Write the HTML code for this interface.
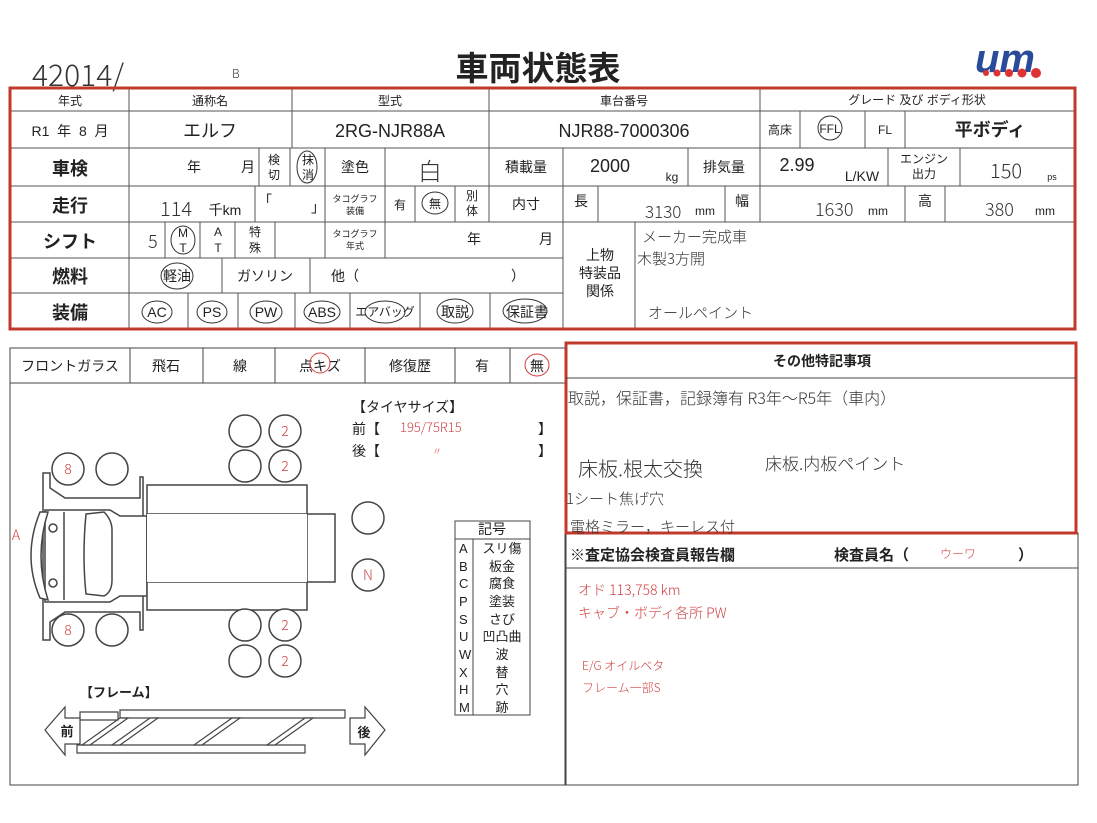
<!DOCTYPE html>
<html><head><meta charset="utf-8"><style>
html,body{margin:0;padding:0;background:#fff;}
svg{display:block;}
text{font-family:"Liberation Sans","Noto Sans CJK JP",sans-serif;fill:#222;}
.h{font-size:12px;text-anchor:middle;}
.m{font-size:18px;text-anchor:middle;}
.b{font-size:18px;text-anchor:middle;font-weight:bold;}
.s{font-size:14px;text-anchor:middle;}
.t{font-size:9px;text-anchor:middle;}
.hw{font-family:"Noto Sans CJK JP",sans-serif;font-weight:300;fill:#333;}
.r{fill:#d04040;font-family:"Noto Sans CJK JP",sans-serif;font-weight:300;}
</style></head><body>
<svg width="1097" height="823" viewBox="0 0 1097 823" xmlns="http://www.w3.org/2000/svg">
<rect width="1097" height="823" fill="#fff"/>
<!-- header -->
<text x="32" y="86" class="hw" font-size="30" fill="#555">42014/</text>
<text x="232" y="78" class="hw" font-size="12">B</text>
<text x="538" y="80" font-size="33" font-weight="bold" text-anchor="middle" style="fill:#222">車両状態表</text>
<text x="1005" y="72" font-size="40" font-weight="bold" font-style="italic" text-anchor="middle" style="fill:#2a4a9a;font-family:'Liberation Sans',sans-serif">um</text>
<g fill="#d33"><circle cx="986" cy="73" r="3"/><circle cx="997" cy="73" r="3.5"/><circle cx="1009" cy="73" r="4"/><circle cx="1022" cy="73" r="4.5"/><circle cx="1036" cy="73" r="5"/></g>

<!-- top table -->
<g stroke="#555" stroke-width="1" fill="none">
<line x1="10" y1="111" x2="1075" y2="111"/>
<line x1="10" y1="148" x2="1075" y2="148"/>
<line x1="10" y1="186" x2="1075" y2="186"/>
<line x1="10" y1="222" x2="1075" y2="222"/>
<line x1="10" y1="258" x2="563" y2="258"/>
<line x1="10" y1="293" x2="563" y2="293"/>
<line x1="129" y1="88" x2="129" y2="329"/>
<line x1="292" y1="88" x2="292" y2="148"/>
<line x1="489" y1="88" x2="489" y2="148"/>
<line x1="760" y1="88" x2="760" y2="148"/>
<line x1="800" y1="111" x2="800" y2="148"/>
<line x1="865" y1="111" x2="865" y2="148"/>
<line x1="905" y1="111" x2="905" y2="148"/>
<!-- row3 -->
<line x1="259" y1="148" x2="259" y2="186"/>
<line x1="290" y1="148" x2="290" y2="186"/>
<line x1="325" y1="148" x2="325" y2="258"/>
<line x1="385" y1="148" x2="385" y2="258"/>
<line x1="489" y1="148" x2="489" y2="222"/>
<line x1="563" y1="148" x2="563" y2="329"/>
<line x1="688" y1="148" x2="688" y2="186"/>
<line x1="760" y1="148" x2="760" y2="222"/>
<line x1="888" y1="148" x2="888" y2="186"/>
<line x1="960" y1="148" x2="960" y2="186"/>
<!-- row4 -->
<line x1="255" y1="186" x2="255" y2="222"/>
<line x1="415" y1="186" x2="415" y2="222"/>
<line x1="455" y1="186" x2="455" y2="222"/>
<line x1="598" y1="186" x2="598" y2="222"/>
<line x1="725" y1="186" x2="725" y2="222"/>
<line x1="905" y1="186" x2="905" y2="222"/>
<line x1="945" y1="186" x2="945" y2="222"/>
<!-- row5 -->
<line x1="165" y1="222" x2="165" y2="258"/>
<line x1="200" y1="222" x2="200" y2="258"/>
<line x1="235" y1="222" x2="235" y2="258"/>
<line x1="275" y1="222" x2="275" y2="258"/>
<line x1="635" y1="222" x2="635" y2="329"/>
<!-- row6 -->
<line x1="222" y1="258" x2="222" y2="293"/>
<line x1="310" y1="258" x2="310" y2="293"/>
<!-- row7 -->
<line x1="188" y1="293" x2="188" y2="329"/>
<line x1="238" y1="293" x2="238" y2="329"/>
<line x1="295" y1="293" x2="295" y2="329"/>
<line x1="350" y1="293" x2="350" y2="329"/>
<line x1="420" y1="293" x2="420" y2="329"/>
<line x1="490" y1="293" x2="490" y2="329"/>
</g>
<rect x="10" y="88" width="1065" height="241" fill="none" stroke="#c0392b" stroke-width="3"/>

<text x="70" y="105" class="h">年式</text>
<text x="210" y="105" class="h">通称名</text>
<text x="390" y="105" class="h">型式</text>
<text x="624" y="105" class="h">車台番号</text>
<text x="917" y="104" class="h">グレード 及び ボディ形状</text>
<text x="70" y="136" class="s">R1&#160;&#160;年&#160;&#160;8&#160;&#160;月</text>
<text x="210" y="137" class="m">エルフ</text>
<text x="390" y="137" class="m">2RG-NJR88A</text>
<text x="624" y="137" class="m">NJR88-7000306</text>
<text x="780" y="134" class="h">高床</text>
<circle cx="830" cy="128" r="12" fill="none" stroke="#333"/>
<text x="830" y="133" class="h">FFL</text>
<text x="885" y="134" class="h">FL</text>
<text x="990" y="136" class="b">平ボディ</text>

<text x="70" y="175" class="b">車検</text>
<text x="194" y="172" class="s">年</text><text x="248" y="172" class="s">月</text>
<text x="274" y="164" class="h">検</text><text x="274" y="179" class="h">切</text>
<ellipse cx="307" cy="167" rx="10" ry="16" fill="none" stroke="#333"/>
<text x="308" y="164" class="h">抹</text><text x="308" y="179" class="h">消</text>
<text x="355" y="172" class="s">塗色</text>
<text x="418" y="180" class="hw" font-size="24">白</text>
<text x="526" y="172" class="s">積載量</text>
<text x="610" y="172" class="m">2000</text><text x="672" y="181" class="h">kg</text>
<text x="724" y="172" class="s">排気量</text>
<text x="797" y="171" class="m">2.99</text><text x="862" y="181" class="s">L/KW</text>
<text x="924" y="163" class="h">エンジン</text><text x="924" y="178" class="h">出力</text>
<text x="990" y="178" class="hw" font-size="20">150</text><text x="1052" y="180" class="t" font-size="11">ps</text>

<text x="70" y="212" class="b">走行</text>
<text x="160" y="216" class="hw" font-size="20">114</text>
<text x="225" y="215" class="s">千km</text>
<text x="265" y="206" class="s">「</text><text x="318" y="212" class="s">」</text>
<text x="355" y="202" class="t">タコグラフ</text><text x="355" y="214" class="t">装備</text>
<text x="400" y="209" class="h">有</text>
<ellipse cx="435" cy="203" rx="13" ry="11" fill="none" stroke="#333"/>
<text x="435" y="208" class="h">無</text>
<text x="472" y="200" class="h">別</text><text x="472" y="215" class="h">体</text>
<text x="526" y="209" class="s">内寸</text>
<text x="581" y="206" class="s">長</text>
<text x="645" y="218" class="hw" font-size="17">3130</text><text x="705" y="215" class="h">mm</text>
<text x="742" y="206" class="s">幅</text>
<text x="815" y="216" class="hw" font-size="18">1630</text><text x="878" y="215" class="h">mm</text>
<text x="925" y="206" class="s">高</text>
<text x="985" y="216" class="hw" font-size="18">380</text><text x="1045" y="215" class="h">mm</text>

<text x="70" y="248" class="b">シフト</text>
<text x="148" y="248" class="hw" font-size="18">5</text>
<ellipse cx="183" cy="240" rx="12" ry="14" fill="none" stroke="#333"/>
<text x="183" y="237" class="h">M</text><text x="183" y="252" class="h">T</text>
<text x="218" y="236" class="h">A</text><text x="218" y="252" class="h">T</text>
<text x="255" y="236" class="h">特</text><text x="255" y="252" class="h">殊</text>
<text x="355" y="237" class="t">タコグラフ</text><text x="355" y="249" class="t">年式</text>
<text x="474" y="244" class="s">年</text><text x="546" y="244" class="s">月</text>
<text x="600" y="260" class="s">上物</text><text x="600" y="278" class="s">特装品</text><text x="600" y="296" class="s">関係</text>
<text x="642" y="242" class="hw" font-size="15">メーカー完成車</text>
<text x="637" y="264" class="hw" font-size="15">木製3方開</text>
<text x="648" y="318" class="hw" font-size="15">オールペイント</text>

<text x="70" y="283" class="b">燃料</text>
<ellipse cx="177" cy="276" rx="16" ry="13" fill="none" stroke="#333"/>
<text x="177" y="281" class="s">軽油</text>
<text x="265" y="281" class="s">ガソリン</text>
<text x="345" y="281" class="s">他（</text><text x="518" y="281" class="s">）</text>

<text x="70" y="319" class="b">装備</text>
<ellipse cx="157" cy="312" rx="15" ry="11" fill="none" stroke="#333"/><text x="157" y="317" class="s">AC</text>
<ellipse cx="212" cy="312" rx="15" ry="11" fill="none" stroke="#333"/><text x="212" y="317" class="s">PS</text>
<ellipse cx="266" cy="312" rx="16" ry="11" fill="none" stroke="#333"/><text x="266" y="317" class="s">PW</text>
<ellipse cx="322" cy="312" rx="18" ry="11" fill="none" stroke="#333"/><text x="322" y="317" class="s">ABS</text>
<ellipse cx="385" cy="312" rx="20" ry="11" fill="none" stroke="#333"/><text x="385" y="316" class="h">エアバッグ</text>
<ellipse cx="455" cy="311" rx="18" ry="12" fill="none" stroke="#333"/><text x="455" y="317" class="s">取説</text>
<ellipse cx="525" cy="311" rx="22" ry="12" fill="none" stroke="#333"/><text x="527" y="317" class="s">保証書</text>

<!-- bottom left -->
<g stroke="#444" stroke-width="1" fill="none">
<rect x="10" y="348" width="555" height="437"/>
<line x1="10" y1="383" x2="565" y2="383"/>
<line x1="130" y1="348" x2="130" y2="383"/>
<line x1="203" y1="348" x2="203" y2="383"/>
<line x1="275" y1="348" x2="275" y2="383"/>
<line x1="365" y1="348" x2="365" y2="383"/>
<line x1="455" y1="348" x2="455" y2="383"/>
<line x1="510" y1="348" x2="510" y2="383"/>
</g>
<text x="70" y="371" class="s">フロントガラス</text>
<text x="166" y="371" class="s">飛石</text>
<text x="240" y="371" class="s">線</text>
<text x="320" y="371" class="s">点キズ</text>
<circle cx="320" cy="363" r="10" fill="none" stroke="#d04040"/>
<text x="410" y="371" class="s">修復歴</text>
<text x="482" y="371" class="s">有</text>
<ellipse cx="537" cy="365" rx="12" ry="11" fill="none" stroke="#d04040"/>
<text x="537" y="371" class="s">無</text>

<text x="352" y="412" font-size="14">【タイヤサイズ】</text>
<text x="352" y="434" font-size="14">前【</text><text x="538" y="434" font-size="14">】</text>
<text x="352" y="456" font-size="14">後【</text><text x="538" y="456" font-size="14">】</text>
<text x="400" y="432" class="r" font-size="13">195/75R15</text>
<text x="432" y="455" class="r" font-size="10">〃</text>

<g stroke="#444" stroke-width="1.5" fill="#fff">
<!-- cab -->
<path d="M43 473 L50 473 L50 488 L65 498 L140 498 L140 477 L143 477 L143 630 L140 630 L140 612 L65 612 L50 622 L50 640 L43 640 Z" fill="none"/>
<path d="M45 510 L110 510 L120 516 L147 516 L147 596 L120 596 L110 602 L45 602 Z"/>
<path d="M40 512 Q22 556 40 598 L48 600 Q34 556 48 512 Z"/>
<path d="M86 514 L104 512 Q112 520 112 530 L112 580 Q112 592 104 596 L86 594 Q82 556 86 514 Z"/>
<line x1="64" y1="512" x2="64" y2="600"/>
<circle cx="53" cy="528" r="4"/><circle cx="53" cy="583" r="4"/>
<!-- chassis -->
<rect x="147" y="485" width="160" height="125"/>
<rect x="147" y="514" width="188" height="68" fill="none"/>
<rect x="147" y="514" width="160" height="68" stroke="none"/>
<!-- tires -->
<circle cx="68" cy="469" r="16"/><circle cx="112" cy="469" r="16"/>
<circle cx="68" cy="630" r="16"/><circle cx="112" cy="630" r="16"/>
<circle cx="245" cy="431" r="16"/><circle cx="285" cy="431" r="16"/>
<circle cx="245" cy="466" r="16"/><circle cx="285" cy="466" r="16"/>
<circle cx="245" cy="625" r="16"/><circle cx="285" cy="625" r="16"/>
<circle cx="245" cy="661" r="16"/><circle cx="285" cy="661" r="16"/>
<circle cx="368" cy="518" r="16"/><circle cx="368" cy="575" r="16"/>
</g>
<g class="r" font-size="14" text-anchor="middle">
<text x="68" y="474" class="r">8</text><text x="68" y="635" class="r">8</text>
<text x="285" y="436" class="r">2</text><text x="285" y="471" class="r">2</text>
<text x="285" y="630" class="r">2</text><text x="285" y="666" class="r">2</text>
<text x="368" y="580" class="r">N</text>
<text x="16" y="540" class="r">A</text>
</g>

<!-- legend -->
<g stroke="#444" stroke-width="1" fill="none">
<rect x="455" y="521" width="75" height="194"/>
<line x1="455" y1="539" x2="530" y2="539"/>
<line x1="473" y1="539" x2="473" y2="715"/>
</g>
<text x="492" y="534" class="s" font-size="13">記号</text>
<g font-size="13">
<text x="459" y="553">A</text><text x="502" y="553" text-anchor="middle">スリ傷</text>
<text x="459" y="571">B</text><text x="502" y="571" text-anchor="middle">板金</text>
<text x="459" y="588">C</text><text x="502" y="588" text-anchor="middle">腐食</text>
<text x="459" y="606">P</text><text x="502" y="606" text-anchor="middle">塗装</text>
<text x="459" y="624">S</text><text x="502" y="624" text-anchor="middle">さび</text>
<text x="459" y="641">U</text><text x="502" y="641" text-anchor="middle">凹凸曲</text>
<text x="459" y="659">W</text><text x="502" y="659" text-anchor="middle">波</text>
<text x="459" y="677">X</text><text x="502" y="677" text-anchor="middle">替</text>
<text x="459" y="694">H</text><text x="502" y="694" text-anchor="middle">穴</text>
<text x="459" y="712">M</text><text x="502" y="712" text-anchor="middle">跡</text>
</g>

<!-- frame -->
<text x="80" y="697" font-size="13" font-weight="bold">【フレーム】</text>
<g stroke="#444" stroke-width="1.2" fill="#fff">
<path d="M120 710 L345 710 L345 718 L120 718 Z"/>
<path d="M77 745 L305 745 L305 753 L77 753 Z"/>
<path d="M120 718 L82 745 L90 745 L128 718 Z"/>
<path d="M150 718 L112 745 L120 745 L158 718 Z"/>
<path d="M232 718 L194 745 L202 745 L240 718 Z"/>
<path d="M305 718 L267 745 L275 745 L313 718 Z"/>
<path d="M80 712 L80 720 L118 720 L118 712 Z" fill="none"/>
<path d="M45 730 L65 707 L65 718 L80 718 L80 744 L65 744 L65 755 Z"/>
<path d="M385 730 L365 707 L365 718 L350 718 L350 744 L365 744 L365 755 Z"/>
</g>
<text x="67" y="736" font-size="13" font-weight="bold" text-anchor="middle">前</text>
<text x="364" y="737" font-size="13" font-weight="bold" text-anchor="middle">後</text>

<!-- right -->
<rect x="566" y="533" width="512" height="252" fill="none" stroke="#444"/>
<line x1="566" y1="568" x2="1078" y2="568" stroke="#444"/>
<rect x="566" y="343" width="510" height="190" fill="none" stroke="#c0392b" stroke-width="3"/>
<line x1="566" y1="378" x2="1076" y2="378" stroke="#444"/>
<text x="822" y="366" class="s" font-weight="bold">その他特記事項</text>
<text x="568" y="404" class="hw" font-size="16">取説，保証書，記録簿有 R3年～R5年（車内）</text>
<text x="578" y="476" class="hw" font-size="20">床板.根太交換</text>
<text x="765" y="470" class="hw" font-size="17">床板.内板ペイント</text>
<text x="566" y="504" class="hw" font-size="15">1シート焦げ穴</text>
<text x="570" y="532" class="hw" font-size="15">電格ミラー，キーレス付</text>
<text x="570" y="560" font-size="15" font-weight="bold">※査定協会検査員報告欄</text>
<text x="834" y="560" font-size="15" font-weight="bold">検査員名（</text>
<text x="940" y="558" class="r" font-size="12">ウーワ</text>
<text x="1018" y="560" font-size="15" font-weight="bold">）</text>
<text x="578" y="595" class="r" font-size="14">オド 113,758 km</text>
<text x="578" y="618" class="r" font-size="14">キャブ・ボディ各所 PW</text>
<text x="582" y="670" class="r" font-size="12">E/G オイルベタ</text>
<text x="582" y="692" class="r" font-size="12">フレーム一部S</text>
</svg>
</body></html>
